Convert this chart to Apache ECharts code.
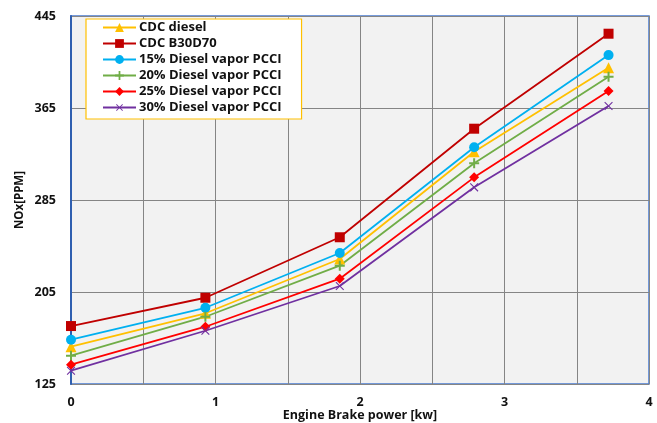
<!DOCTYPE html>
<html>
<head>
<meta charset="utf-8">
<title>NOx</title>
<script src="https://cdn.jsdelivr.net/npm/echarts@6/dist/echarts.min.js"></script>
<style>
  html, body { margin: 0; padding: 0; background: #fff; }
  #chart { width: 657px; height: 423px; }
</style>
</head>
<body>
<div id="chart"></div>
<script>
// engine brake power (kW)
var power = [0, 0.93, 1.86, 2.79, 3.72];
var cdcDiesel = [157.4, 186.5, 233.7, 327, 400];
var cdcB30D70 = [175.4, 200, 252.6, 347, 429.6];
var pcci15 = [163.5, 191.3, 238.9, 330.8, 411];
var pcci20 = [149.6, 183.5, 227.9, 316.9, 392.2];
var pcci25 = [141.8, 174.8, 216.6, 304.7, 379.8];
var pcci30 = [136.6, 171.3, 210.2, 296, 366.7];
var names = ['CDC diesel', 'CDC B30D70', '15% Diesel vapor PCCI', '20% Diesel vapor PCCI', '25% Diesel vapor PCCI', '30% Diesel vapor PCCI'];

var plus = 'path://M4,0 L6,0 L6,4 L10,4 L10,6 L6,6 L6,10 L4,10 L4,6 L0,6 L0,4 L4,4 Z';
var thinPlus = 'path://M4.5,0 L5.5,0 L5.5,4.5 L10,4.5 L10,5.5 L5.5,5.5 L5.5,10 L4.5,10 L4.5,5.5 L0,5.5 L0,4.5 L4.5,4.5 Z';

function pts(arr) {
    return power.map(function (p, i) { return [p, arr[i]]; });
}
function mk(name, arr, color, symbol, size, rot) {
    return {
        name: name, type: 'line', data: pts(arr),
        symbol: symbol, symbolSize: size, symbolRotate: rot || 0,
        lineStyle: { color: color, width: 1.8 },
        itemStyle: { color: color },
        emphasis: { disabled: true }
    };
}

var chart = echarts.init(document.getElementById('chart'));
var font = '"Open Sans", Lato, sans-serif';
chart.setOption({
    animation: false,
    textStyle: { fontFamily: font },
    grid: {
        left: 71, right: 8, top: 16, bottom: 39,
        outerBoundsMode: 'none',
        show: true, backgroundColor: '#f2f2f2',
        borderColor: '#4a7bd0', borderWidth: 1.5
    },
    legend: {
        orient: 'vertical', left: 86, top: 19,
        data: names,
        backgroundColor: '#fff',
        borderColor: '#ffc000', borderWidth: 1.2, borderRadius: 0,
        padding: [2, 20, 5, 16],
        itemWidth: 33, itemHeight: 11, itemGap: 3,
        textStyle: { fontFamily: font, fontWeight: 'bold', fontSize: 13, lineHeight: 12, color: '#111', padding: [0, 0, 0, -2] }
    },
    xAxis: {
        type: 'value', min: 0, max: 4, interval: 0.5,
        name: 'Engine Brake power [kw]', nameLocation: 'middle', nameGap: 25,
        nameMoveOverlap: false,
        nameTextStyle: { fontFamily: font, fontWeight: 'bold', fontSize: 12.5, color: '#111' },
        axisLine: { show: false },
        axisTick: { show: false },
        axisLabel: {
            margin: 12, fontWeight: 'bold', fontSize: 12.5, color: '#111',
            formatter: function (v) { return Number.isInteger(v) ? String(v) : ''; }
        },
        splitLine: { lineStyle: { color: '#858585', width: 1 } }
    },
    yAxis: {
        type: 'value', min: 125, max: 445, interval: 80,
        name: 'NOx[PPM]', nameLocation: 'middle', nameGap: 45,
        nameMoveOverlap: false,
        nameTextStyle: { fontFamily: font, fontWeight: 'bold', fontSize: 11.5, color: '#111' },
        axisLine: { show: true, lineStyle: { color: '#2f5fb0', width: 2 } },
        axisTick: { show: false },
        axisLabel: { margin: 15, fontWeight: 'bold', fontSize: 12.5, color: '#111' },
        splitLine: { lineStyle: { color: '#858585', width: 1 } }
    },
    series: [
        mk(names[0], cdcDiesel, '#ffc000', 'triangle', 11),
        mk(names[1], cdcB30D70, '#c00000', 'rect', 10),
        mk(names[2], pcci15, '#00b0f0', 'circle', 10),
        mk(names[3], pcci20, '#70ad47', plus, 10),
        mk(names[4], pcci25, '#ff0000', 'diamond', 10),
        mk(names[5], pcci30, '#7030a0', thinPlus, 11, 45)
    ]
});
</script>
</body>
</html>
